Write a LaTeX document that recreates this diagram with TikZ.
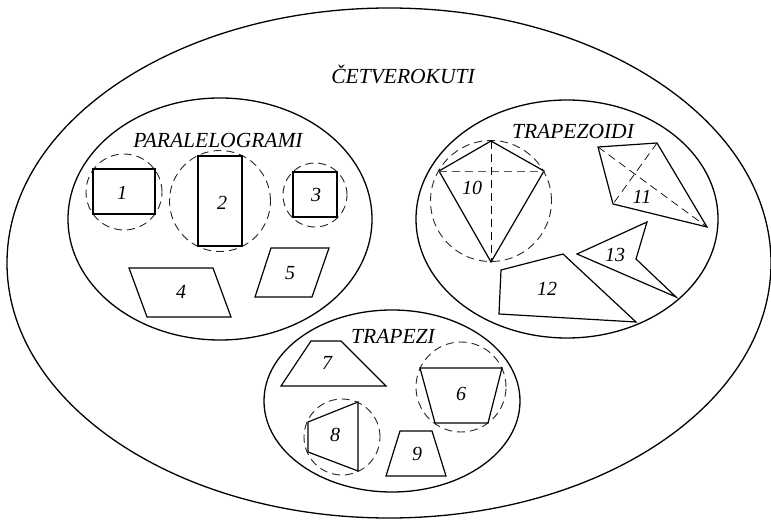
\documentclass[tikz,border=0pt]{standalone}
\usepackage{fontspec}
\setmainfont{Liberation Serif}
\begin{document}
\begin{tikzpicture}[x=1pt,y=-1pt,
  setline/.style={line width=1.3pt},
  fig/.style={line width=1.2pt, line join=miter},
  circ/.style={dash pattern=on 8pt off 5pt, line width=0.9pt, draw=black!85},
  diag/.style={dash pattern=on 8pt off 5pt, line width=0.9pt},
  title/.style={font=\fontsize{21.5}{21.5}\selectfont\itshape, inner sep=0pt},
  num/.style={font=\fontsize{20}{20}\selectfont\itshape, inner sep=0pt}]
\useasboundingbox (0,0) rectangle (771,521);
\fill[white] (0,0) rectangle (771,521);

% sets
\draw[setline] (389,263) ellipse [x radius=382pt, y radius=255pt];
\draw[setline] (220,219) ellipse [x radius=152pt, y radius=121pt];
\draw[setline] (567,219) ellipse [x radius=151pt, y radius=119pt];
\draw[setline] (392,401) ellipse [x radius=128pt, y radius=91pt];

\node[title] (cet) at (403,74) {ČETVEROKUTI};
\node[title] (par) at (218,140) {PARALELOGRAMI};
\node[title] (tzd) at (573,131) {TRAPEZOIDI};
\node[title] (trz) at (393,336) {TRAPEZI};

% paralelogrami
\draw[circ] (124,192) circle [radius=38pt];
\draw[fig] (93,169) rectangle (155,214);
\node[num] (n1) at (122,193) {1};
\draw[circ] (220,201) circle [radius=50.5pt];
\draw[fig] (198,156) rectangle (242,246);
\node[num] (n2) at (222,203) {2};
\draw[circ] (315,195) circle [radius=32pt];
\draw[fig] (293,172) rectangle (337,217);
\node[num] (n3) at (316,195) {3};
\draw[fig] (129,268) -- (213,268) -- (231,317) -- (147,317) -- cycle;
\node[num] (n4) at (181,292) {4};
\draw[fig] (271,248) -- (329,248) -- (312,297) -- (255,297) -- cycle;
\node[num] (n5) at (290,273) {5};

% trapezoidi
\draw[circ] (491,201) circle [radius=60.5pt];
\draw[fig] (491,141) -- (544,171) -- (491,262) -- (439,171) -- cycle;
\draw[diag, draw=black!65] (439,171) -- (544,171);
\draw[diag] (491,141) -- (491,262);
\node[num] (n10) at (472,188) {10};
\draw[fig] (598,147) -- (657,143) -- (707,227) -- (613,204) -- cycle;
\draw[diag, line width=0.7pt] (598,147) -- (707,227);
\draw[diag, line width=0.7pt] (657,143) -- (613,204);
\node[num] (n11) at (642,197) {11};
\draw[fig] (501,270) -- (563,254) -- (636,322) -- (499,314) -- cycle;
\node[num] (n12) at (547,289) {12};
\draw[fig] (577,254) -- (647,222) -- (636,259) -- (676,297) -- cycle;
\node[num] (n13) at (615,255) {13};

% trapezi
\draw[fig] (311,341) -- (341,341) -- (386,386) -- (281,386) -- cycle;
\node[num] (n7) at (327,363) {7};
\draw[circ] (461,387) circle [radius=45pt];
\draw[fig] (420,368) -- (502,368) -- (488,423) -- (435,423) -- cycle;
\node[num] (n6) at (461,394) {6};
\draw[circ] (342,437) circle [radius=38pt];
\draw[fig] (358,402) -- (358,471) -- (308,452) -- (308,422) -- cycle;
\node[num] (n8) at (335,435) {8};
\draw[fig] (400,431) -- (432,431) -- (446,476) -- (386,476) -- cycle;
\node[num] (n9) at (417,454) {9};
\end{tikzpicture}
\end{document}
